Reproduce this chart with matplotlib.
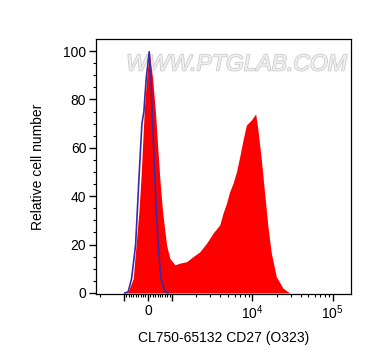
import matplotlib
matplotlib.use("Agg")
import matplotlib.pyplot as plt
import matplotlib.patheffects as pe
import numpy as np

plt.rcParams['font.family'] = ['Liberation Sans', 'DejaVu Sans']
plt.rcParams['mathtext.default'] = 'regular'

# stained sample (red fill), x in fluorescence units, y = relative cell number
sample_x = [-1055, -816, -609, -373, -290, -153, -54, 54, 195, 319, 402, 497, 609,
            774, 911, 1085, 1252, 1516, 1830, 2218, 2687, 3245, 3929, 4319, 4760,
            5231, 5748, 6337, 6966, 7654, 8437, 9732, 11005, 11753, 12955, 14236,
            15644, 17244, 19900, 24030, 29110]
sample_y = [0, 0.5, 6, 33.6, 47, 75, 88.7, 99.7, 88.7, 74, 61, 47, 33.6,
            19.8, 14.3, 11.6, 12.3, 12.9, 15, 17, 20.5, 24.7, 28.1, 33, 37,
            41.9, 45.3, 50, 56.3, 63.2, 69.4, 71.5, 74, 67.4, 55, 41.2,
            27.4, 16.4, 6.7, 2, 0]

# isotype control (blue line)
control_x = [-952, -816, -675, -509, -373, -248, -166, -70, 54, 124, 178, 290,
             427, 538, 704, 828]
control_y = [0, 0.5, 6, 20, 47, 70, 75, 88.7, 99.7, 88.7, 75, 47,
             20, 6, 0.5, 0]

xticks = [-1000, 0, 1000, 10000, 100000]
xticklabels = ['', '0', '', '$10^4$', '$10^5$']
yticks = [0, 20, 40, 60, 80, 100]

fig = plt.figure(figsize=(3.72, 3.64), dpi=100)
ax = fig.add_axes([0.258, 0.192, 0.686, 0.701])

ax.set_xscale('symlog', linthresh=1000, linscale=0.27)

ax.fill_between(sample_x, sample_y, 0, color='#ff0000', linewidth=0, zorder=2)
ax.plot(control_x, control_y, color='#3a2aa8', linewidth=1.2, zorder=3)

ax.set_xlim(-2220, 170000)
ax.set_ylim(-0.5, 105)

ax.set_xticks(xticks)
ax.set_xticklabels(xticklabels)
minor = ([-2000] + list(range(-900, 0, 100)) + list(range(100, 1000, 100))
         + list(range(2000, 10000, 1000)) + list(range(20000, 100000, 10000)))
ax.set_xticks(minor, minor=True)
ax.set_yticks(yticks)
ax.set_yticks(np.arange(0, 105, 5), minor=True)

ax.tick_params(axis='both', which='major', direction='out', length=5, width=1,
               labelsize=10, pad=2)
ax.tick_params(axis='both', which='minor', direction='out', length=2.5, width=0.8)

for s in ax.spines.values():
    s.set_linewidth(0.9)

ax.set_xlabel('CL750-65132 CD27 (O323)', fontsize=10, labelpad=6)
ax.set_ylabel('Relative cell number', fontsize=10, labelpad=13)

# watermark
ax.text(0.55, 0.902, 'WWW.PTGLAB.COM', transform=ax.transAxes,
        fontsize=16.5, color='#f0f0f0', ha='center', va='center', style='italic',
        family=['Liberation Sans Narrow', 'Liberation Sans'], zorder=1,
        path_effects=[pe.withStroke(linewidth=1.2, foreground='#cccccc')])

plt.savefig('out.png', dpi=100)
plt.close()
